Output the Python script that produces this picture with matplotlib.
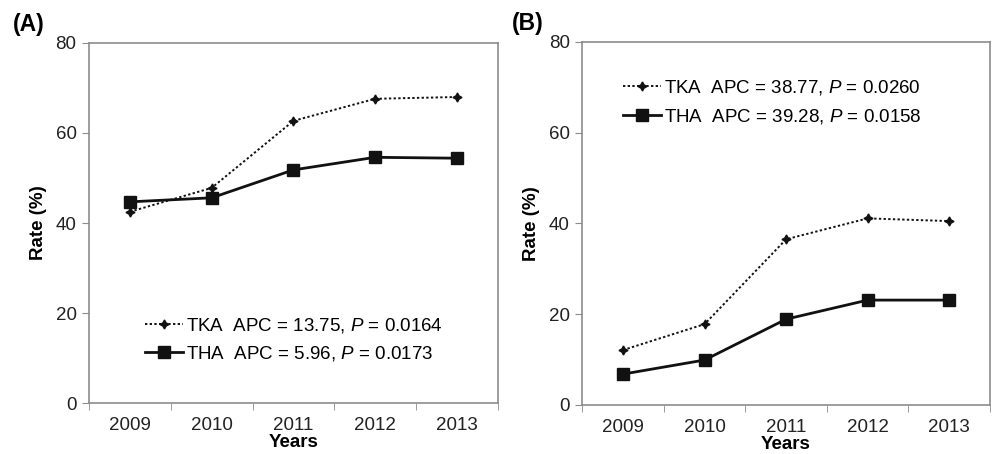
import matplotlib
matplotlib.use("Agg")
import matplotlib.pyplot as plt
import numpy as np

plt.rcParams['font.family'] = ['Liberation Sans', 'DejaVu Sans']
plt.rcParams['mathtext.fontset'] = 'custom'
plt.rcParams['mathtext.rm'] = 'Liberation Sans'
plt.rcParams['mathtext.it'] = 'Liberation Sans:italic'

years = ['2009', '2010', '2011', '2012', '2013']

# panel A
tka_a = [42.5, 47.8, 62.7, 67.6, 68.0]
tha_a = [44.7, 45.6, 51.8, 54.6, 54.4]
tka_a_lab = r'TKA  APC = 13.75, $\it{P}$ = 0.0164'
tha_a_lab = r'THA  APC = 5.96, $\it{P}$ = 0.0173'

# panel B
tka_b = [12.1, 17.8, 36.5, 41.1, 40.5]
tha_b = [6.8, 9.9, 18.9, 23.1, 23.1]
tka_b_lab = r'TKA  APC = 38.77, $\it{P}$ = 0.0260'
tha_b_lab = r'THA  APC = 39.28, $\it{P}$ = 0.0158'

fig = plt.figure(figsize=(9.97, 4.54), dpi=100)
axA = fig.add_axes([0.0893, 0.1123, 0.410, 0.793])
axB = fig.add_axes([0.584, 0.108, 0.409, 0.80])

spine_col = '#8c8c8c'


def draw(ax, tka, tha, lab1, lab2, panel, panel_x, leg_loc, leg_anchor):
    x = np.arange(len(years))
    ax.plot(x, tka, linestyle=(0, (1.2, 1.2)), color='#111111', lw=1.4,
            marker=(4, 1, 0), ms=6.5, label=lab1)
    ax.plot(x, tha, linestyle='-', color='#111111', lw=2,
            marker='s', ms=8, label=lab2)
    ax.set_xlim(-0.5, len(years) - 0.5)
    ax.set_ylim(0, 80)
    ax.set_yticks([0, 20, 40, 60, 80])
    ax.set_xticks(x)
    ax.set_xticklabels(years)
    ax.set_xticks(np.arange(len(years) + 1) - 0.5, minor=True)
    ax.tick_params(axis='x', which='major', length=0, pad=10, labelsize=13.5,
                   labelcolor='#222222')
    ax.tick_params(axis='x', which='minor', length=5, color=spine_col,
                   direction='out')
    ax.tick_params(axis='y', length=5, color=spine_col, labelsize=13.5,
                   labelcolor='#222222', pad=4)
    for s in ax.spines.values():
        s.set_color(spine_col)
        s.set_linewidth(1.2)
    ax.set_xlabel('Years', fontsize=13.5, fontweight='bold', labelpad=0)
    ax.set_ylabel('Rate (%)', fontsize=13.5, fontweight='bold', labelpad=6)
    ax.text(panel_x, 1.05, panel, transform=ax.transAxes, fontsize=16.5,
            fontweight='bold', ha='left', va='center')
    ax.legend(loc=leg_loc, bbox_to_anchor=leg_anchor, frameon=False,
              fontsize=13.5, handlelength=2.0, handletextpad=0.15,
              labelspacing=0.5, borderpad=0)


draw(axA, tka_a, tha_a, tka_a_lab, tha_a_lab, '(A)', -0.186, 'lower left', (0.115, 0.085))
draw(axB, tka_b, tha_b, tka_b_lab, tha_b_lab, '(B)', -0.172, 'upper left', (0.078, 0.925))

fig.savefig('out.png', dpi=100)
